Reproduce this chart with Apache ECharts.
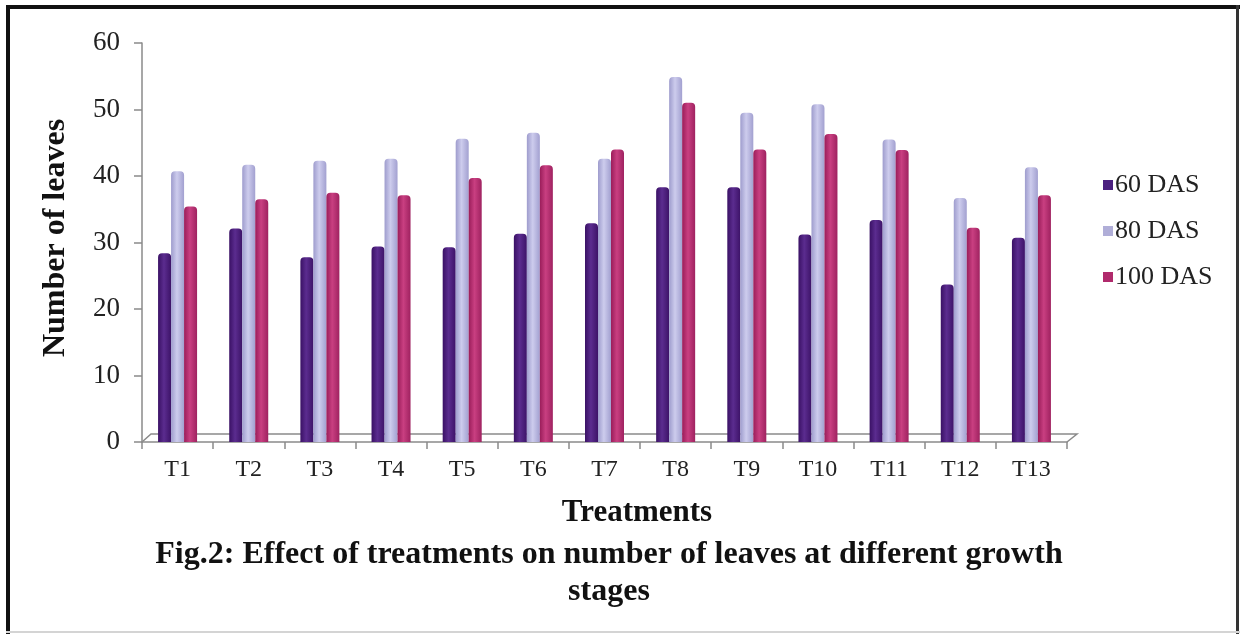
<!DOCTYPE html>
<html>
<head>
<meta charset="utf-8">
<script src="https://cdn.jsdelivr.net/npm/echarts@6/dist/echarts.min.js"></script>
<style>
  html, body { margin: 0; padding: 0; background: #ffffff; }
  #chart { width: 1241px; height: 634px; }
</style>
</head>
<body>
<div id="chart"></div>
<script>
// Treatments on the category axis
const categories = ['T1', 'T2', 'T3', 'T4', 'T5', 'T6', 'T7', 'T8', 'T9', 'T10', 'T11', 'T12', 'T13'];
// Number of leaves at each growth stage
const das60 = [28.4, 32.1, 27.8, 29.4, 29.3, 31.3, 32.9, 38.3, 38.3, 31.2, 33.4, 23.7, 30.7];
const das80 = [40.7, 41.7, 42.3, 42.6, 45.6, 46.5, 42.6, 54.9, 49.5, 50.8, 45.5, 36.7, 41.3];
const das100 = [35.4, 36.5, 37.5, 37.1, 39.7, 41.6, 44.0, 51.0, 44.0, 46.3, 43.9, 32.2, 37.1];
const seriesNames = ['60 DAS', '80 DAS', '100 DAS'];
const yTicks = { min: 0, max: 60, interval: 10 };

const serif = '"Liberation Serif", "DejaVu Serif", serif';
const axisGray = '#8a8a8a';

// horizontal shading so each bar reads like a cylinder
function cylinder(edge, mid, edge2) {
  return {
    type: 'linear', x: 0, y: 0, x2: 1, y2: 0,
    colorStops: [
      { offset: 0, color: edge },
      { offset: 0.45, color: mid },
      { offset: 1, color: edge2 }
    ]
  };
}
const fills = [
  cylinder('#3a1165', '#5b2c8f', '#3d1368'),
  cylinder('#9e9ccd', '#cdcced', '#a2a0d0'),
  cylinder('#9a1d5a', '#c93f81', '#9f2260')
];
const legendColors = ['#4b2080', '#b0aed8', '#b02a6c'];
const values = [das60, das80, das100];

const chart = echarts.init(document.getElementById('chart'), null, { renderer: 'canvas' });

const option = {
  backgroundColor: '#ffffff',
  animation: false,
  grid: { left: 142, right: 174, top: 43, bottom: 192, containLabel: false },
  legend: {
    orient: 'vertical',
    left: 1098,
    top: 167,
    itemWidth: 10,
    itemHeight: 10,
    itemGap: 20,
    icon: 'rect',
    textStyle: { fontFamily: serif, fontSize: 26, color: '#222', lineHeight: 26, padding: [0, 0, 0, -3] },
    data: seriesNames.map((n, i) => ({ name: n, itemStyle: { color: legendColors[i] } }))
  },
  xAxis: {
    type: 'category',
    data: categories,
    axisLine: { show: true, lineStyle: { color: axisGray, width: 1.5 } },
    axisTick: { show: true, length: 7, lineStyle: { color: axisGray, width: 1.5 } },
    axisLabel: { fontFamily: serif, fontSize: 24, color: '#222', margin: 16 }
  },
  yAxis: {
    type: 'value',
    min: yTicks.min,
    max: yTicks.max,
    interval: yTicks.interval,
    name: 'Number of leaves',
    nameLocation: 'middle',
    nameGap: 70,
    nameTextStyle: { fontFamily: serif, fontSize: 32, fontWeight: 'bold', color: '#111', padding: [0, 0, 0, 9] },
    axisLine: { show: true, lineStyle: { color: axisGray, width: 1.5 } },
    axisTick: { show: true, length: 8, lineStyle: { color: axisGray, width: 1.5 } },
    axisLabel: { fontFamily: serif, fontSize: 27, color: '#222', margin: 22 },
    splitLine: { show: false }
  },
  series: seriesNames.map((n, i) => ({
    name: n,
    type: 'bar',
    data: values[i],
    barWidth: 13,
    barGap: '0%',
    itemStyle: { color: fills[i], borderRadius: [4, 4, 0, 0] }
  })),
  graphic: [
    // figure frame
    { type: 'rect', shape: { x: 6, y: 5, width: 1234, height: 4 }, style: { fill: '#111' }, silent: true },
    { type: 'rect', shape: { x: 6, y: 5, width: 4, height: 629 }, style: { fill: '#111' }, silent: true },
    { type: 'rect', shape: { x: 1236, y: 5, width: 3, height: 629 }, style: { fill: '#333' }, silent: true },
    { type: 'rect', shape: { x: 6, y: 631, width: 1234, height: 2 }, style: { fill: '#d4d4d4' }, silent: true },
    // axis title and caption
    {
      type: 'text', x: 637, y: 513,
      style: { text: 'Treatments', font: 'bold 31px ' + serif, fill: '#111', textAlign: 'center', textVerticalAlign: 'middle' }
    },
    {
      type: 'text', x: 609, y: 573,
      style: {
        text: 'Fig.2: Effect of treatments on number of leaves at different growth\nstages',
        font: 'bold 32px ' + serif, fill: '#111', textAlign: 'center', textVerticalAlign: 'middle', lineHeight: 37
      }
    }
  ]
};
chart.setOption(option);

// floor plane behind the bars, placed from the axis scales
const p0 = chart.convertToPixel({ xAxisIndex: 0, yAxisIndex: 0 }, [0, 0]);
const grid = chart.getModel().getComponent('grid').coordinateSystem.getRect();
const yFront = p0[1];
const yBack = yFront - 8;
const xL = grid.x, xR = grid.x + grid.width;
chart.setOption({
  graphic: option.graphic.concat([
    {
      type: 'polyline', silent: true, z: -1,
      shape: { points: [[xL, yFront], [xL + 9, yBack], [xR + 10, yBack], [xR, yFront]] },
      style: { stroke: axisGray, lineWidth: 1.5, fill: null }
    }
  ])
});
</script>
</body>
</html>
